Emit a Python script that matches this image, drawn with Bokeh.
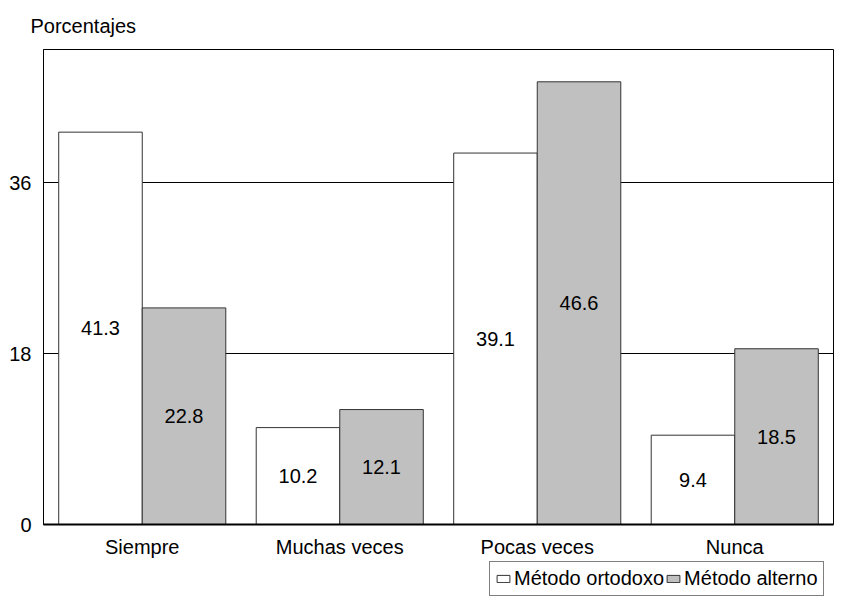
from bokeh.plotting import figure
from bokeh.layouts import column
from bokeh.models import ColumnDataSource, FactorRange, Range1d, FixedTicker, Legend, LegendItem, LabelSet
from bokeh.transform import dodge
from bokeh.core.properties import value
from bokeh.embed import file_html
from bokeh.resources import INLINE

categories = ["Siempre", "Muchas veces", "Pocas veces", "Nunca"]
ortodoxo = [41.3, 10.2, 39.1, 9.4]
alterno = [22.8, 12.1, 46.6, 18.5]
series_names = ["Método ortodoxo", "Método alterno"]
y_ticks = [0, 18, 36]
series_fill = ["white", "#c0c0c0"]

FONT = "Liberation Sans"
FS = "20px"
EDGE = "#333333"

src = ColumnDataSource(dict(
    cat=categories,
    orto=ortodoxo,
    alt=alterno,
    orto_mid=[v / 2 for v in ortodoxo],
    alt_mid=[v / 2 for v in alterno],
    orto_lbl=[f"{v:.1f}" for v in ortodoxo],
    alt_lbl=[f"{v:.1f}" for v in alterno],
))

p = figure(width=834, height=560, output_backend="svg", toolbar_location=None,
           x_range=FactorRange(factors=categories, range_padding=0),
           y_range=Range1d(0, 50),
           min_border_left=43, min_border_right=1, min_border_bottom=36, min_border_top=49)

p.title.text = "Porcentajes"
p.title.text_font = FONT
p.title.text_font_size = FS
p.title.text_font_style = "normal"
p.title.text_color = "black"
p.title.offset = -13
p.title.standoff = 22
p.title.vertical_align = "top"

bw = 0.423
p.vbar(x=dodge("cat", -bw / 2, range=p.x_range), top="orto", width=bw, source=src,
       fill_color=series_fill[0], line_color=EDGE, line_width=1)
p.vbar(x=dodge("cat", bw / 2, range=p.x_range), top="alt", width=bw, source=src,
       fill_color=series_fill[1], line_color=EDGE, line_width=1)

for col_y, col_t, off in [("orto_mid", "orto_lbl", -bw / 2), ("alt_mid", "alt_lbl", bw / 2)]:
    ls = LabelSet(x=dodge("cat", off, range=p.x_range), y=col_y, text=col_t, source=src,
                  text_align="center", text_baseline="middle",
                  text_font=value(FONT), text_font_size=FS, text_color="black")
    p.add_layout(ls)

p.yaxis.ticker = FixedTicker(ticks=y_ticks)
p.ygrid.ticker = FixedTicker(ticks=y_ticks[1:])
p.ygrid.grid_line_color = "black"
p.ygrid.grid_line_width = 1
p.xgrid.grid_line_color = None

p.outline_line_color = "black"
p.outline_line_width = 1

for ax in (p.xaxis, p.yaxis):
    ax.axis_line_color = "black"
    ax.major_tick_line_color = None
    ax.minor_tick_line_color = None
    ax.major_tick_out = 0
    ax.major_tick_in = 0
    ax.minor_tick_out = 0
    ax.major_label_text_font = FONT
    ax.major_label_text_font_size = FS
    ax.major_label_text_color = "black"
p.xaxis.axis_line_width = 2
p.xaxis.major_label_standoff = 11
p.yaxis.major_label_standoff = 12

# legend strip below the chart (its frame is aligned with the chart frame by the column)
q = figure(width=834, height=36, output_backend="svg", toolbar_location=None,
           x_range=FactorRange(factors=categories), y_range=Range1d(0, 1),
           x_axis_type=None, y_axis_type=None,
           min_border_left=0, min_border_right=0, min_border_top=0, min_border_bottom=0)
q.outline_line_color = None
q.xgrid.visible = False
q.ygrid.visible = False
l1 = q.vbar(x="cat", top="orto", width=0.4, source=src, fill_color=series_fill[0],
            line_color=EDGE, visible=False)
l2 = q.vbar(x="cat", top="alt", width=0.4, source=src, fill_color=series_fill[1],
            line_color=EDGE, visible=False)

legend = Legend(items=[LegendItem(label=series_names[0], renderers=[l1]),
                       LegendItem(label=series_names[1], renderers=[l2])],
                orientation="horizontal", location=(446, 0),
                label_text_font=FONT, label_text_font_size=FS, label_text_color="black",
                glyph_width=16, glyph_height=9, label_standoff=3, spacing=1,
                padding=5, margin=0, border_line_color="black", border_line_width=1,
                label_height=20, click_policy="none")
q.add_layout(legend, "center")

layout = column(p, q, spacing=0)
open("out.html", "w").write(file_html(layout, INLINE))
